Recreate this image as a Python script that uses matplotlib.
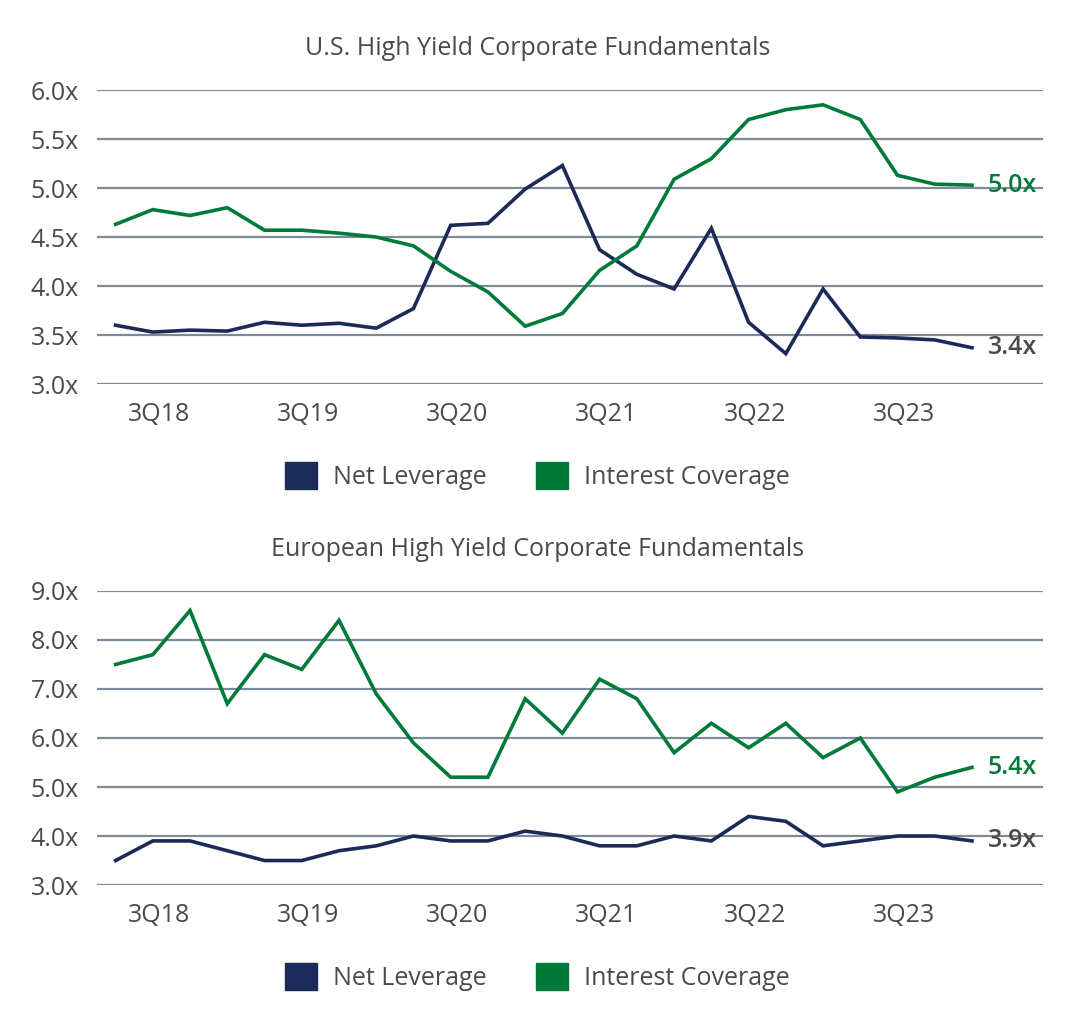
import matplotlib
matplotlib.use("Agg")
import matplotlib.pyplot as plt
from matplotlib.patches import Patch

plt.rcParams['font.family'] = ['Open Sans', 'DejaVu Sans']

# Quarterly data, 2Q18 .. 1Q24
quarters = ["2Q18", "3Q18", "4Q18", "1Q19", "2Q19", "3Q19", "4Q19", "1Q20",
            "2Q20", "3Q20", "4Q20", "1Q21", "2Q21", "3Q21", "4Q21", "1Q22",
            "2Q22", "3Q22", "4Q22", "1Q23", "2Q23", "3Q23", "4Q23", "1Q24"]
tick_labels = ["3Q18", "3Q19", "3Q20", "3Q21", "3Q22", "3Q23"]

us_leverage = [3.60, 3.53, 3.55, 3.54, 3.63, 3.60, 3.62, 3.57, 3.77, 4.62,
               4.64, 4.99, 5.23, 4.37, 4.12, 3.97, 4.59, 3.63, 3.31, 3.97,
               3.48, 3.47, 3.45, 3.37]
us_coverage = [4.63, 4.78, 4.72, 4.80, 4.57, 4.57, 4.54, 4.50, 4.41, 4.15,
               3.94, 3.59, 3.72, 4.16, 4.41, 5.09, 5.30, 5.70, 5.80, 5.85,
               5.70, 5.13, 5.04, 5.03]

eu_leverage = [3.5, 3.9, 3.9, 3.7, 3.5, 3.5, 3.7, 3.8, 4.0, 3.9, 3.9, 4.1,
               4.0, 3.8, 3.8, 4.0, 3.9, 4.4, 4.3, 3.8, 3.9, 4.0, 4.0, 3.9]
eu_coverage = [7.5, 7.7, 8.6, 6.7, 7.7, 7.4, 8.4, 6.9, 5.9, 5.2, 5.2, 6.8,
               6.1, 7.2, 6.8, 5.7, 6.3, 5.8, 6.3, 5.6, 6.0, 4.9, 5.2, 5.4]

NAVY = "#1b2a56"
GREEN = "#007a3a"
GRID = "#7d8a99"
TEXT = "#4a4a4a"
FS = 18


def draw_panel(ax, title, leverage, coverage, ylim, yticks):
    x = list(range(len(quarters)))
    for y in yticks:
        ax.axhline(y, color=GRID, lw=1.6, zorder=0)
    ax.plot(x, leverage, color=NAVY, lw=2.6, solid_joinstyle="miter", zorder=3)
    ax.plot(x, coverage, color=GREEN, lw=2.6, solid_joinstyle="miter", zorder=3)

    ax.set_xlim(-0.5, 24.9)
    ax.set_ylim(*ylim)
    ax.set_yticks(yticks)
    ax.set_yticklabels([f"{v:.1f}x" for v in yticks])
    ticks = [quarters.index(t) + 0.18 for t in tick_labels]
    ax.set_xticks(ticks)
    ax.set_xticklabels(tick_labels)
    ax.tick_params(length=0, labelsize=FS, colors=TEXT)
    ax.tick_params(axis="y", pad=13)
    ax.tick_params(axis="x", pad=13)
    for s in ax.spines.values():
        s.set_visible(False)
    # title is centred on the figure, not on the plot area
    ax.set_title(title, fontsize=FS, color=TEXT, pad=25, x=0.466)

    # end labels
    ax.text(x[-1] + 0.42, coverage[-1], f"{coverage[-1]:.1f}x", color=GREEN,
            fontsize=FS, fontweight="semibold", va="center", ha="left")
    ax.text(x[-1] + 0.42, leverage[-1], f"{leverage[-1]:.1f}x", color=TEXT,
            fontsize=FS, fontweight="semibold", va="center", ha="left")


fig = plt.figure(figsize=(10.76, 10.24), dpi=100)
ax1 = fig.add_axes([0.0901, 0.625, 0.879, 0.287])
ax2 = fig.add_axes([0.0901, 0.1357, 0.879, 0.2872])

draw_panel(ax1, "U.S. High Yield Corporate Fundamentals", us_leverage,
           us_coverage, (3.0, 6.0), [3.0, 3.5, 4.0, 4.5, 5.0, 5.5, 6.0])
draw_panel(ax2, "European High Yield Corporate Fundamentals", eu_leverage,
           eu_coverage, (3.0, 9.0), [3.0, 4.0, 5.0, 6.0, 7.0, 8.0, 9.0])

handles = [Patch(color=NAVY), Patch(color=GREEN)]
labels = ["Net Leverage", "Interest Coverage"]
for yc in (0.535, 0.046):
    fig.legend(handles, labels, loc="center", bbox_to_anchor=(0.4995, yc),
               ncol=2, frameon=False, fontsize=FS, labelcolor=TEXT,
               handlelength=1.28, handleheight=1.28, handletextpad=0.64,
               columnspacing=1.95)

fig.savefig("out.png", dpi=100, facecolor="white")
